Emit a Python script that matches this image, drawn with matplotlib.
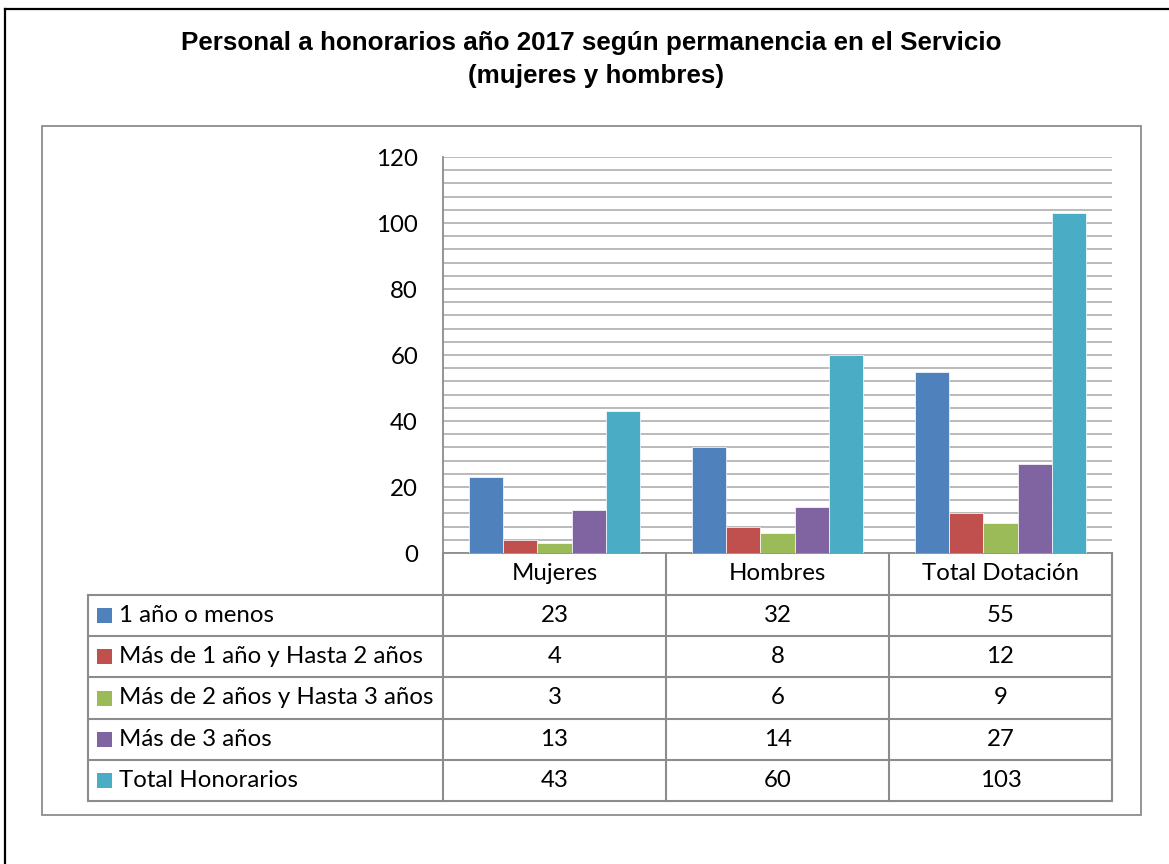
import matplotlib.pyplot as plt
from matplotlib.lines import Line2D
from matplotlib.patches import Rectangle
import numpy as np

plt.rcParams['font.family'] = ['Lato', 'DejaVu Sans']

categories = ['Mujeres', 'Hombres', 'Total Dotación']
series = ['1 año o menos', 'Más de 1 año y Hasta 2 años',
          'Más de 2 años y Hasta 3 años', 'Más de 3 años', 'Total Honorarios']
uno_o_menos = [23, 32, 55]
uno_a_dos = [4, 8, 12]
dos_a_tres = [3, 6, 9]
mas_de_tres = [13, 14, 27]
total_honorarios = [43, 60, 103]
values = [uno_o_menos, uno_a_dos, dos_a_tres, mas_de_tres, total_honorarios]
colors = ['#4F81BD', '#C0504D', '#9BBB59', '#8064A2', '#4BACC6']

W, H = 1169, 864
fig = plt.figure(figsize=(W / 100, H / 100), dpi=100)


def fx(x):
    return x / W


def fy(y):
    return 1 - y / H


grey = '#8c8c8c'
fs = 17.3

# outer black frame (left and top only visible)
fig.add_artist(Line2D([fx(5), fx(5)], [fy(9), 0], color='black', lw=1.6))
fig.add_artist(Line2D([fx(5), 1], [fy(9), fy(9)], color='black', lw=1.6))
# chart area frame
fig.add_artist(Rectangle((fx(42), fy(815)), fx(1141) - fx(42), fy(126) - fy(815),
                         fill=False, edgecolor=grey, lw=1.3))

fig.text(fx(591), fy(43), 'Personal a honorarios año 2017 según permanencia en el Servicio',
         ha='center', va='center', fontsize=18.7, fontweight='bold', family='Liberation Sans')
fig.text(fx(596), fy(76), '(mujeres y hombres)',
         ha='center', va='center', fontsize=18.7, fontweight='bold', family='Liberation Sans')

ax_l, ax_r, ax_t, ax_b = 443, 1112, 157, 553
ax = fig.add_axes([fx(ax_l), fy(ax_b), fx(ax_r) - fx(ax_l), fy(ax_t) - fy(ax_b)])

x = np.arange(len(categories))
width = 0.153
for i, (vals, c) in enumerate(zip(values, colors)):
    ax.bar(x + (i - 2) * width, vals, width, color=c, edgecolor='white', lw=0.5, zorder=3)

ax.set_xlim(-0.5, 2.5)
ax.set_ylim(0, 120)
ax.set_yticks(np.arange(0, 121, 20))
ax.set_yticks(np.arange(0, 121, 4), minor=True)
ax.yaxis.grid(True, which='both', color='#b4b4b4', lw=1.3, zorder=0)
ax.tick_params(axis='y', which='both', length=0, pad=18, labelsize=fs)
ax.set_xticks([])
for s in ['top', 'right']:
    ax.spines[s].set_visible(False)
ax.spines['left'].set_color(grey)
ax.spines['left'].set_linewidth(1.3)
ax.spines['bottom'].set_color(grey)
ax.spines['bottom'].set_linewidth(1.3)

# data table under the chart
col_edges = [ax_l + (ax_r - ax_l) * k / 3 for k in range(4)]
tbl_left = 88
row_top = 595
row_h = (801 - 595) / 5

for xe in col_edges:
    fig.add_artist(Line2D([fx(xe), fx(xe)], [fy(553), fy(801)], color=grey, lw=1.5))
fig.add_artist(Line2D([fx(tbl_left), fx(tbl_left)], [fy(595), fy(801)], color=grey, lw=1.5))
for r in range(6):
    y = row_top + r * row_h
    fig.add_artist(Line2D([fx(tbl_left), fx(ax_r)], [fy(y), fy(y)], color=grey, lw=1.5))

for j, cat in enumerate(categories):
    cx = (col_edges[j] + col_edges[j + 1]) / 2
    fig.text(fx(cx), fy(574), cat, ha='center', va='center', fontsize=fs)

for i, (name, vals, c) in enumerate(zip(series, values, colors)):
    cy = row_top + (i + 0.5) * row_h
    fig.add_artist(Rectangle((fx(97), fy(cy + 7.5)), fx(15), 15 / H,
                             facecolor=c, edgecolor='none'))
    fig.text(fx(119), fy(cy), name, ha='left', va='center', fontsize=fs)
    for j, v in enumerate(vals):
        cx = (col_edges[j] + col_edges[j + 1]) / 2
        fig.text(fx(cx), fy(cy), str(v), ha='center', va='center', fontsize=fs)

plt.savefig('out.png', dpi=100)
